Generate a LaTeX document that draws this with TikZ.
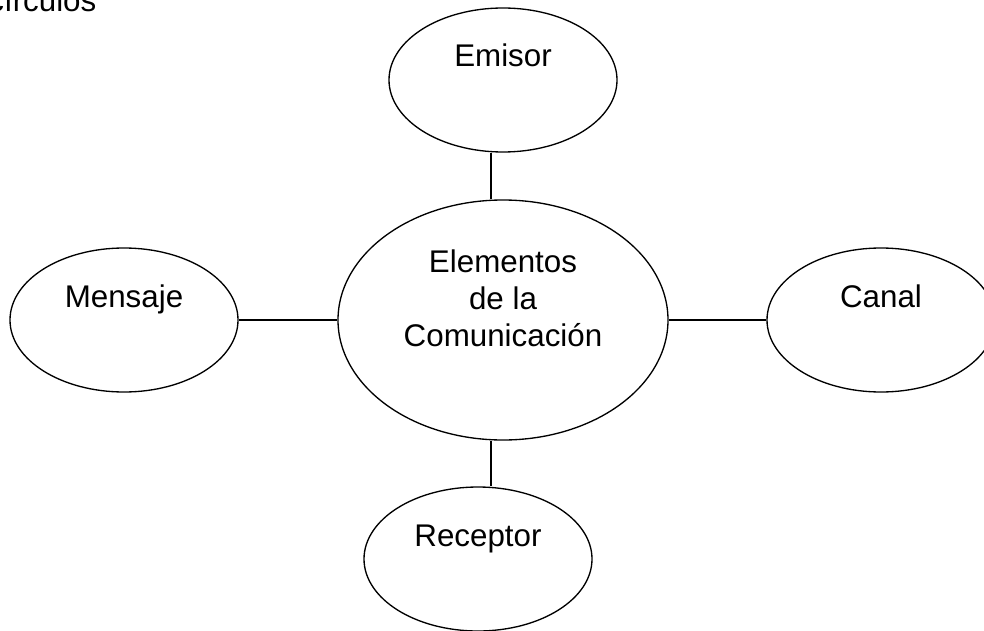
\documentclass[tikz,border=0pt]{standalone}
\usepackage{fontspec}
\setmainfont{Liberation Sans}
\usepackage{tikz}
\usetikzlibrary{shapes.geometric}

\begin{document}
\begin{tikzpicture}[x=0.75pt, y=-0.75pt, line width=1pt,
  burbuja/.style={ellipse, draw, minimum width=171pt, minimum height=108pt, inner sep=0pt},
  texto/.style={font=\fontsize{23.5}{27.75}\selectfont, inner sep=0pt}]
  % Fix the page to the size of the reference
  \useasboundingbox (0,0) rectangle (984,631);

  \node[texto, anchor=base east] (titulo) at (97,12) {círculos};

  % Central ellipse
  \node[ellipse, draw, minimum width=247.5pt, minimum height=180pt, inner sep=0pt,
        label={[texto, align=center, yshift=16pt, name=centro]center:Elementos\\de la\\Comunicación}] (core) at (503,320) {};

  % Place the four outer ellipses
  \foreach \nombre/\x/\y/\txt in {emisor/503/80/Emisor, mensaje/124/320/Mensaje, canal/881/320/Canal, receptor/478/559/Receptor} {
    \node[burbuja, label={[texto, text height=17pt, text depth=5pt, yshift=15.75pt]center:\txt}] (\nombre) at (\x,\y) {};
  }

  % Connectors
  \coordinate (eje) at (491,320);
  \draw (emisor.south -| eje) -- (core.north -| eje);
  \draw (core.south -| eje) -- (receptor.north -| eje);
  \draw (mensaje.east) -- (core.west);
  \draw (core.east) -- (canal.west);
\end{tikzpicture}
\end{document}
